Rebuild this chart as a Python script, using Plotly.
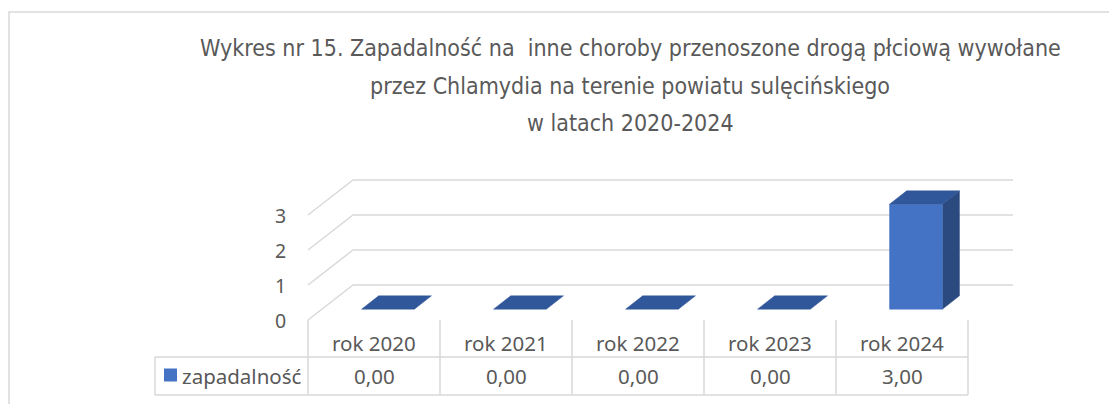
import plotly.graph_objects as go

# ---------------- data ----------------
categories = ["rok 2020", "rok 2021", "rok 2022", "rok 2023", "rok 2024"]
values = [0.0, 0.0, 0.0, 0.0, 3.0]
series_name = "zapadalność"
y_ticks = [0, 1, 2, 3]
title_lines = [
    "Wykres nr 15. Zapadalność na  inne choroby przenoszone drogą płciową wywołane",
    "przez Chlamydia na terenie powiatu sulęcińskiego",
    "w latach 2020-2024",
]

# ---------------- layout geometry ----------------
W, H = 1117, 404
OFF = 8.0                 # page body margin offset
PX0, PCW = 308.0, 132.0   # pixel of category 0 left edge, pixels per category
PY0, PVU = 320.0, 35.0    # pixel of value 0 (front plane), pixels per value unit


def ux(px):
    return (px - PX0) / PCW


def uy(py):
    return (PY0 - py) / PVU


DX = 45.0 / PCW   # depth offset in x units
DY = 35.0 / PVU   # depth offset in y units
D1, D2 = 0.31, 0.69   # bar front/back depth fractions
BW0, BW1 = 0.30, 0.70  # bar left/right inside category

GRID = "#D9D9D9"
TXT = "#595959"
FRONT = "#4472C4"
TOP = "#30579A"
SIDE = "#2B4A80"
TITLE_FONT = "DejaVu Sans Condensed, Liberation Sans Narrow, sans-serif"
BODY_FONT = "Noto Sans, Open Sans, sans-serif"
BODY_SIZE = 20.5

fig = go.Figure()


def line(xs, ys, color=GRID, width=1.5):
    fig.add_trace(go.Scatter(x=xs, y=ys, mode="lines", line=dict(color=color, width=width),
                             hoverinfo="skip", showlegend=False))


def poly(xs, ys, color):
    fig.add_trace(go.Scatter(x=xs + [xs[0]], y=ys + [ys[0]], mode="lines", fill="toself",
                             fillcolor=color, line=dict(color=color, width=0.5),
                             hoverinfo="skip", showlegend=False))


n = len(categories)
# outer chart border
line([ux(9), ux(9), ux(W + 20)], [uy(H + 20), uy(12), uy(12)], color="#D9D9D9", width=1.5)

# gridlines (floor edge + back wall)
for v in y_ticks:
    line([0, DX, n + DX], [v, v + DY, v + DY])

# bars
for i, v in enumerate(values):
    xl, xr = i + BW0, i + BW1
    fx, fy = DX * D1, DY * D1
    bx, by = DX * D2, DY * D2
    if v > 0:
        # side face
        poly([xr + fx, xr + bx, xr + bx, xr + fx], [fy, by, v + by, v + fy], SIDE)
        # front face
        poly([xl + fx, xr + fx, xr + fx, xl + fx], [fy, fy, v + fy, v + fy], FRONT)
    # top face
    poly([xl + fx, xr + fx, xr + bx, xl + bx], [v + fy, v + fy, v + by, v + by], TOP)

# data table
row1 = uy(357)
row2 = uy(395)
for i in range(n + 1):
    line([i, i], [0, row2])
line([ux(155), n], [row1, row1])
line([ux(155), n], [row2, row2])
line([ux(155), ux(155)], [row1, row2])

annotations = []
for i, (c, v) in enumerate(zip(categories, values)):
    annotations.append(dict(x=i + 0.5, y=uy(343), text=c, showarrow=False,
                            font=dict(family=BODY_FONT, size=BODY_SIZE, color=TXT),
                            xanchor="center", yanchor="middle"))
    annotations.append(dict(x=i + 0.5, y=uy(376), text=f"{v:.2f}".replace(".", ","),
                            showarrow=False, font=dict(family=BODY_FONT, size=BODY_SIZE, color=TXT),
                            xanchor="center", yanchor="middle"))

# legend key in table
fig.add_trace(go.Scatter(x=[ux(170.5)], y=[uy(375)], mode="markers",
                         marker=dict(symbol="square", size=13, color=FRONT, line=dict(width=0)),
                         hoverinfo="skip", showlegend=False))
annotations.append(dict(x=ux(180), y=uy(376), text=series_name, showarrow=False,
                        font=dict(family=BODY_FONT, size=BODY_SIZE, color=TXT),
                        xanchor="left", yanchor="middle"))

# value axis tick labels
for v in y_ticks:
    annotations.append(dict(x=ux(288), y=v, text=str(v), showarrow=False,
                            font=dict(family=BODY_FONT, size=19.5, color=TXT),
                            xanchor="right", yanchor="middle"))

# title
for ty, t in zip([48, 86, 123], title_lines):
    annotations.append(dict(x=ux(630), y=uy(ty), text=t, showarrow=False,
                            font=dict(family=TITLE_FONT, size=23, color=TXT),
                            xanchor="center", yanchor="middle"))

fig.update_layout(
    width=W, height=H,
    margin=dict(l=0, r=0, t=0, b=0),
    paper_bgcolor="white", plot_bgcolor="white",
    xaxis=dict(range=[ux(OFF), ux(W + OFF)], visible=False, fixedrange=True),
    yaxis=dict(range=[uy(H + OFF), uy(OFF)], visible=False, fixedrange=True),
    annotations=annotations,
    showlegend=False,
)

fig.write_html("out.html")
